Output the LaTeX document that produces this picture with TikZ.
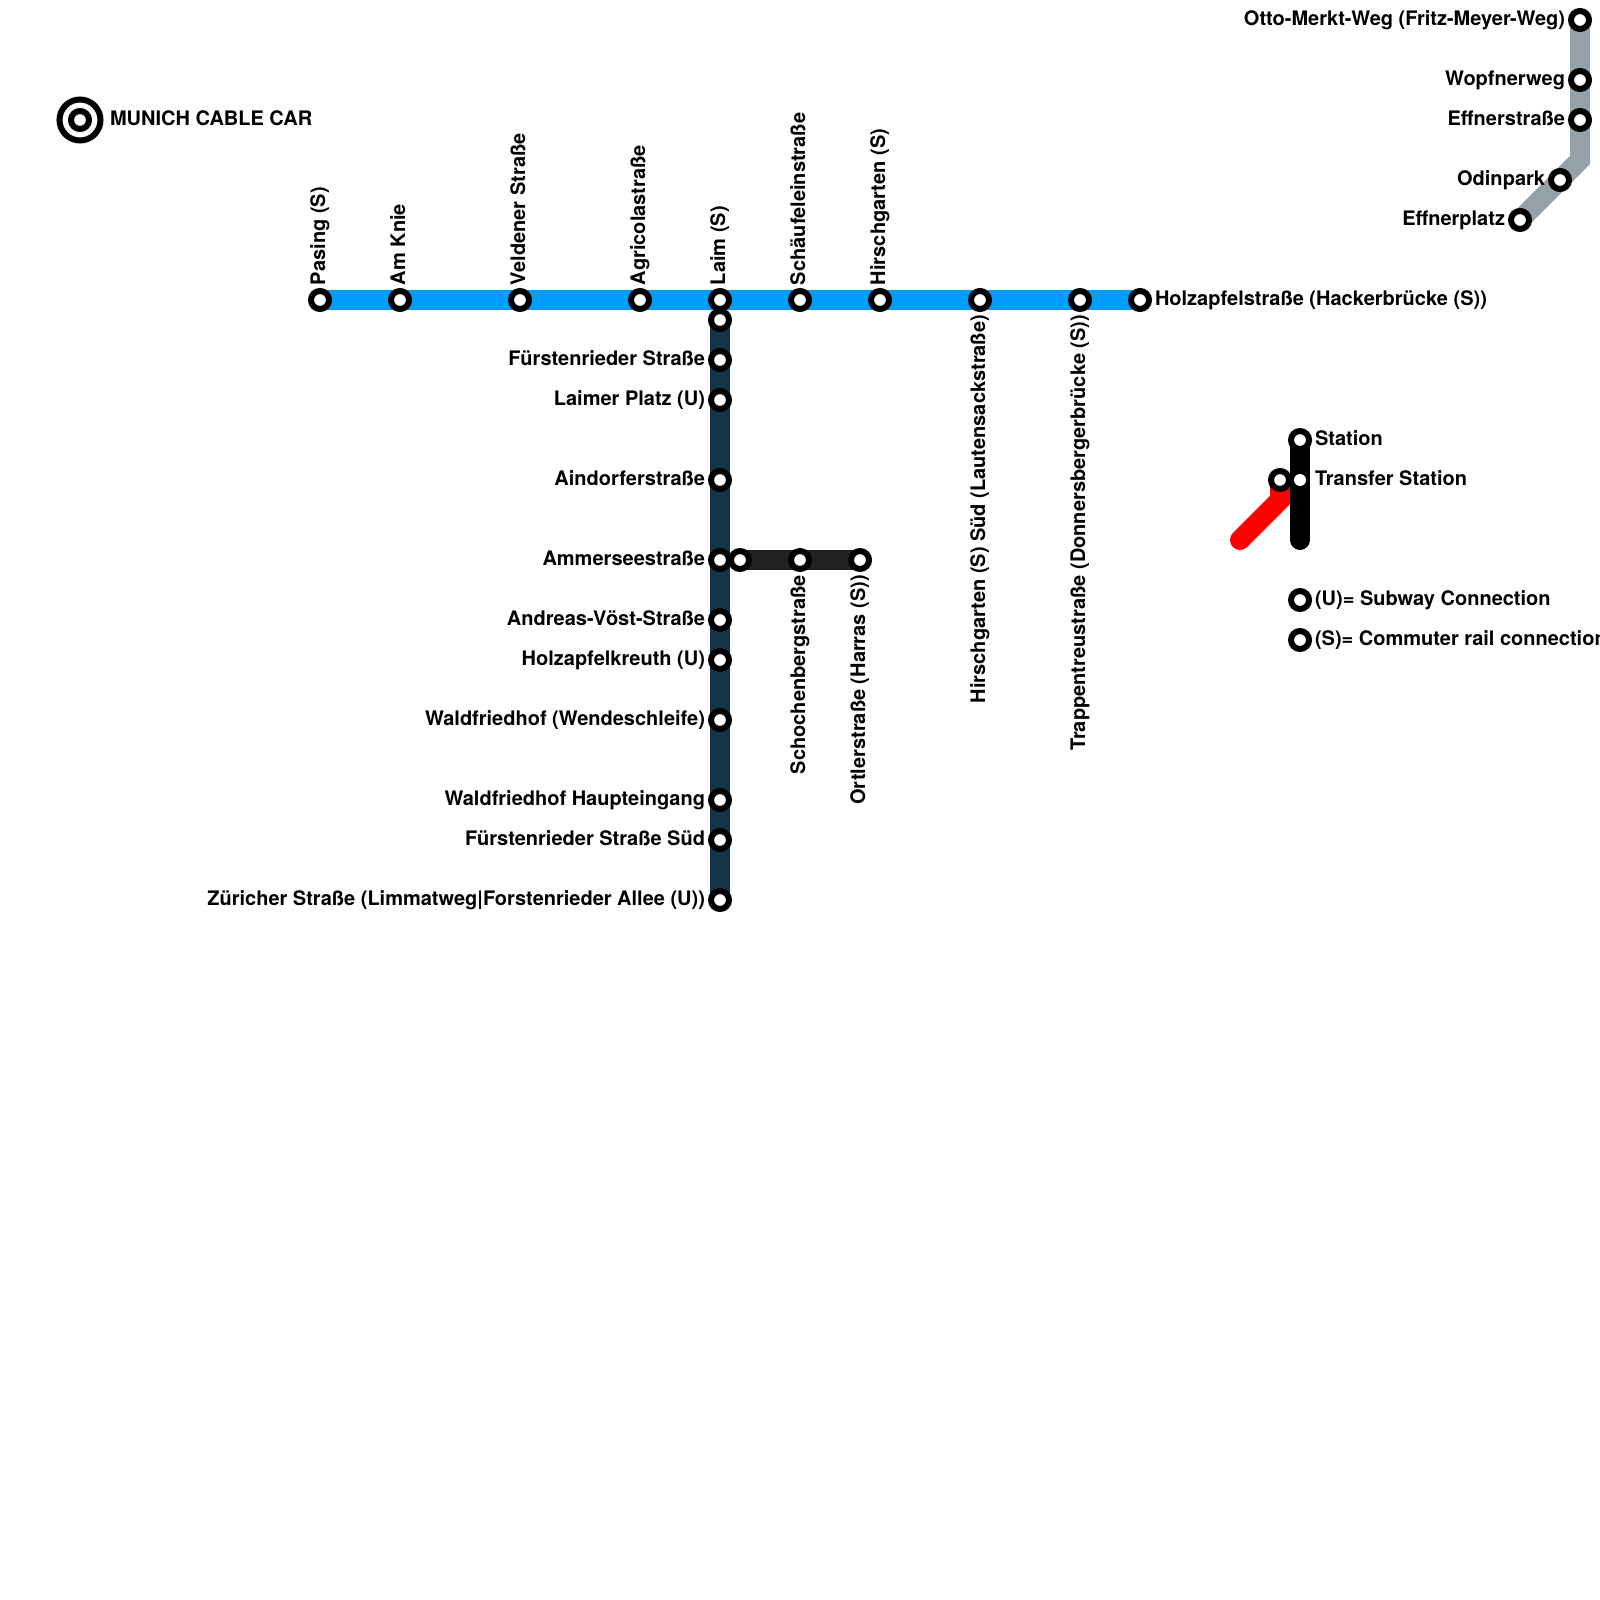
\documentclass[tikz,border=0pt]{standalone}
\usepackage{fontspec}
\setmainfont{TeX Gyre Heros}
\usetikzlibrary{backgrounds}
\definecolor{lblue}{HTML}{009FFF}
\definecolor{lnavy}{HTML}{133349}
\definecolor{ldark}{HTML}{222222}
\definecolor{lgray}{HTML}{95A1A8}
\tikzset{
  stn/.style={circle,draw=black,fill=white,line width=6pt,minimum size=18pt,inner sep=0pt,outer sep=0pt},
  xfer/.style={circle,fill=white,minimum size=12pt,inner sep=0pt,outer sep=0pt},
  line/.style={line width=20pt,line cap=round,line join=miter},
  txt/.style={font=\fontsize{20pt}{22pt}\selectfont\bfseries,inner sep=0pt,outer sep=0pt,text=black},
  tl/.style={txt,anchor=base east},
  tr/.style={txt,anchor=base west},
  tu/.style={txt,anchor=base west,rotate=90},
  td/.style={txt,anchor=base east,rotate=90}
}
\begin{document}
\begin{tikzpicture}[x=1pt,y=-1pt]
\useasboundingbox (0,0) rectangle (1600,1600);
\clip (0,0) rectangle (1600,1600);
% logo
\node[circle,draw=black,line width=6pt,minimum size=41pt,inner sep=0pt,outer sep=0pt] (logo) at (80,120) {};
\node[stn] (logoc) at (80,120) {};
\node[tr] (logot) at (110,125) {MUNICH CABLE CAR};
% blue line
\node[stn] (a1) at (320,300) {};
\node[stn] (a2) at (400,300) {};
\node[stn] (a3) at (520,300) {};
\node[stn] (a4) at (640,300) {};
\node[stn] (a5) at (720,300) {};
\node[stn] (a6) at (800,300) {};
\node[stn] (a7) at (880,300) {};
\node[stn] (a8) at (980,300) {};
\node[stn] (a9) at (1080,300) {};
\node[stn] (a10) at (1140,300) {};
\node[tu] (at1) at (325,285) {Pasing (S)};
\node[tu] (at2) at (405,285) {Am Knie};
\node[tu] (at3) at (525,285) {Veldener Straße};
\node[tu] (at4) at (645,285) {Agricolastraße};
\node[tu] (at5) at (725,285) {Laim (S)};
\node[tu] (at6) at (805,285) {Schäufeleinstraße};
\node[tu] (at7) at (885,285) {Hirschgarten (S)};
\node[td] (at8) at (985,315) {Hirschgarten (S) Süd (Lautensackstraße)};
\node[td] (at9) at (1085,315) {Trappentreustraße (Donnersbergerbrücke (S))};
\node[tr] (at10) at (1155,305) {Holzapfelstraße (Hackerbrücke (S))};
% navy line
\node[stn] (b1) at (720,320) {};
\node[stn] (b2) at (720,360) {};
\node[stn] (b3) at (720,400) {};
\node[stn] (b4) at (720,480) {};
\node[stn] (b5) at (720,560) {};
\node[stn] (b6) at (720,620) {};
\node[stn] (b7) at (720,660) {};
\node[stn] (b8) at (720,720) {};
\node[stn] (b9) at (720,800) {};
\node[stn] (b10) at (720,840) {};
\node[stn] (b11) at (720,900) {};
\node[tl] (bt2) at (705,365) {Fürstenrieder Straße};
\node[tl] (bt3) at (705,405) {Laimer Platz (U)};
\node[tl] (bt4) at (705,485) {Aindorferstraße};
\node[tl] (bt5) at (705,565) {Ammerseestraße};
\node[tl] (bt6) at (705,625) {Andreas-Vöst-Straße};
\node[tl] (bt7) at (705,665) {Holzapfelkreuth (U)};
\node[tl] (bt8) at (705,725) {Waldfriedhof (Wendeschleife)};
\node[tl] (bt9) at (705,805) {Waldfriedhof Haupteingang};
\node[tl] (bt10) at (705,845) {Fürstenrieder Straße Süd};
\node[tl] (bt11) at (705,905) {Züricher Straße (Limmatweg|Forstenrieder Allee (U))};
% dark branch
\node[stn] (c1) at (740,560) {};
\node[stn] (c2) at (800,560) {};
\node[stn] (c3) at (860,560) {};
\node[td] (ct2) at (805,575) {Schochenbergstraße};
\node[td] (ct3) at (865,575) {Ortlerstraße (Harras (S))};
% gray line
\node[stn] (d1) at (1580,20) {};
\node[stn] (d2) at (1580,80) {};
\node[stn] (d3) at (1580,120) {};
\node[stn] (d4) at (1560,180) {};
\node[stn] (d5) at (1520,220) {};
\coordinate (dbend) at (1580,160);
\node[tl] (dt1) at (1565,26) {Otto-Merkt-Weg (Fritz-Meyer-Weg)};
\node[tl] (dt2) at (1565,86) {Wopfnerweg};
\node[tl] (dt3) at (1565,125) {Effnerstraße};
\node[tl] (dt4) at (1545,185) {Odinpark};
\node[tl] (dt5) at (1505,225) {Effnerplatz};
% legend
\coordinate (rbend) at (1280,500);
\coordinate (rend) at (1240,540);
\coordinate (kend) at (1300,540);
\node[stn] (e1) at (1300,440) {};
\node[stn] (e2) at (1280,480) {};
\node[xfer] (e3) at (1300,480) {};
\node[stn] (f1) at (1300,600) {};
\node[stn] (f2) at (1300,640) {};
\node[tr] (et1) at (1315,445) {Station};
\node[tr] (et2) at (1315,485) {Transfer Station};
\node[tr] (ft1) at (1315,605) {(U)= Subway Connection};
\node[tr] (ft2) at (1315,645) {(S)= Commuter rail connection};
\begin{pgfonlayer}{background}
\draw[line,lblue] (a1.center) -- (a10.center);
\draw[line,lnavy] (b1.center) -- (b11.center);
\draw[line,ldark] (c1.center) -- (c3.center);
\draw[line,lgray] (d1.center) -- (dbend) -- (d5.center);
\draw[line,red] (e2.center) -- (rbend) -- (rend);
\draw[line,black] (e1.center) -- (kend);
\end{pgfonlayer}
\end{tikzpicture}
\end{document}
